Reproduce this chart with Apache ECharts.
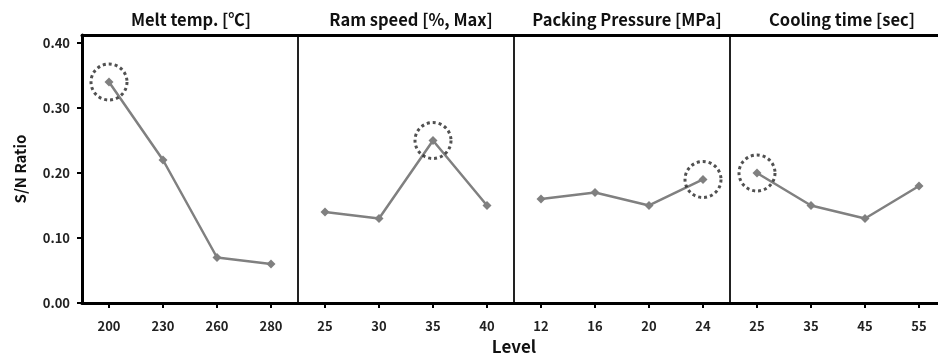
<!DOCTYPE html>
<html><head><meta charset="utf-8">
<script src="https://cdn.jsdelivr.net/npm/echarts@6/dist/echarts.min.js"></script>
<style>html,body{margin:0;padding:0;background:#fff}#c{width:938px;height:356px}</style>
</head><body><div id="c"></div>
<script>
const panelTitles = ['Melt temp. [\u2103]', 'Ram speed [%, Max]', 'Packing Pressure [MPa]', 'Cooling time [sec]'];
const meltLevels = ['200', '230', '260', '280'];
const ramLevels = ['25', '30', '35', '40'];
const packLevels = ['12', '16', '20', '24'];
const coolLevels = ['25', '35', '45', '55'];
const meltSN = [0.34, 0.22, 0.07, 0.06];
const ramSN = [0.14, 0.13, 0.25, 0.15];
const packSN = [0.16, 0.17, 0.15, 0.19];
const coolSN = [0.20, 0.15, 0.13, 0.18];
const yTicks = [0, 0.1, 0.2, 0.3, 0.4];

const levels = [meltLevels, ramLevels, packLevels, coolLevels];
const sns = [meltSN, ramSN, packSN, coolSN];
const categories = [].concat(...levels);
const n = categories.length;

const FONT = '"Noto Sans CJK KR", "Noto Sans", sans-serif';
const series = [];
const highlight = [];
sns.forEach((vals, p) => {
  const data = new Array(n).fill('-');
  let best = 0;
  vals.forEach((v, i) => { data[p * 4 + i] = v; if (v > vals[best]) best = i; });
  highlight.push([p * 4 + best, vals[best]]);
  series.push({
    type: 'line', data: data, connectNulls: false,
    symbol: 'diamond', symbolSize: 9,
    lineStyle: { color: '#808080', width: 2.5 },
    itemStyle: { color: '#808080' },
    silent: true
  });
});
series.push({
  type: 'scatter', data: highlight, symbol: 'circle', symbolSize: 36,
  itemStyle: { color: 'rgba(0,0,0,0)', borderColor: '#262626', borderWidth: 3, borderType: [3, 3] },
  z: 5, silent: true
});

const gridLeft = 82, gridWidth = 864, gridTop = 35, gridBottom = 53;
const titleCenters = [186, 406, 622, 837];
const titles = panelTitles.map((t, p) => ({
  text: t,
  left: titleCenters[p],
  top: 6,
  textAlign: 'center',
  textStyle: { fontFamily: FONT, fontSize: 16.5, fontWeight: 'bold', color: '#111' }
}));

const chart = echarts.init(document.getElementById('c'), null, { renderer: 'canvas' });
chart.setOption({
  animation: false,
  title: titles,
  grid: { left: gridLeft, top: gridTop, width: gridWidth, bottom: gridBottom, containLabel: false, outerBoundsMode: 'none' },
  xAxis: [{
    type: 'category', data: categories, boundaryGap: true,
    name: 'Level', nameLocation: 'middle', nameGap: 35,
    nameTextStyle: { fontFamily: FONT, fontSize: 17, fontWeight: 'bold', color: '#111' },
    axisLine: { show: true, lineStyle: { color: '#000', width: 3 } },
    axisTick: { show: true, alignWithLabel: true, length: 5, lineStyle: { color: '#000', width: 2 } },
    axisLabel: { interval: 0, margin: 17, fontFamily: FONT, fontSize: 13, fontWeight: 'bold', color: '#222' },
    splitLine: { show: true, interval: function (i) { return i > 0 && i < n && i % 4 === 0; }, lineStyle: { color: '#222', width: 2 } }
  }, {
    type: 'category', data: categories, position: 'top', boundaryGap: true,
    axisLine: { show: true, lineStyle: { color: '#000', width: 3 } },
    axisTick: { show: false }, axisLabel: { show: false }, splitLine: { show: false }
  }],
  yAxis: {
    type: 'value', min: yTicks[0], max: 0.4123, interval: 0.1,
    name: 'S/N Ratio', nameLocation: 'middle', nameGap: 54,
    nameTextStyle: { fontFamily: FONT, fontSize: 15, fontWeight: 'bold', color: '#111' },
    axisLine: { show: true, lineStyle: { color: '#000', width: 3 } },
    axisTick: { show: true, length: 5, lineStyle: { color: '#000', width: 2 } },
    axisLabel: { showMaxLabel: false, margin: 12, fontFamily: FONT, fontSize: 13, fontWeight: 'bold', color: '#222',
      formatter: function (v) { return yTicks.some(t => Math.abs(t - v) < 1e-9) ? v.toFixed(2) : ''; } },
    splitLine: { show: false }
  },
  series: series
});
</script></body></html>
